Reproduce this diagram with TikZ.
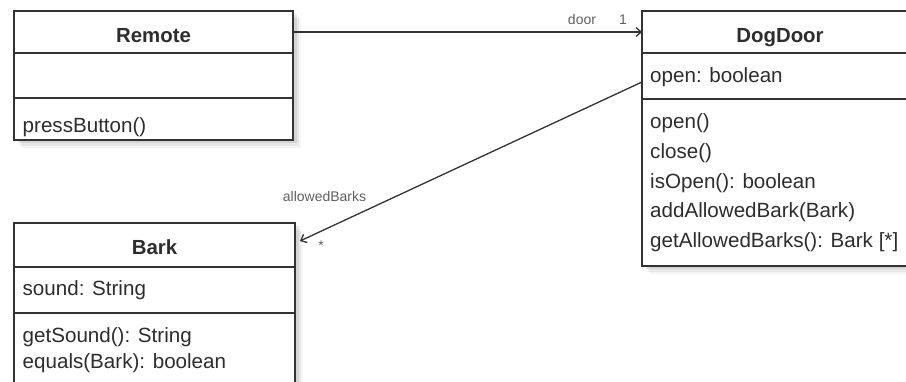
\documentclass[tikz,border=0pt]{standalone}
\usepackage{fontspec}
\setmainfont{Liberation Sans}
\usetikzlibrary{arrows.meta,positioning,shadows}
\definecolor{umlline}{RGB}{50,50,50}
\definecolor{umltext}{RGB}{45,45,45}
\definecolor{umllabel}{RGB}{95,95,95}

\tikzset{
  softshadow/.style={
    drop shadow={shadow xshift=8pt, shadow yshift=-8pt, opacity=.08},
    drop shadow={shadow xshift=6pt, shadow yshift=-6pt, opacity=.12},
    drop shadow={shadow xshift=3.5pt, shadow yshift=-3.5pt, opacity=.18}},
  classpart/.style={draw=umlline, line width=1.7pt, fill=white, inner sep=0pt, outer sep=0pt,
    minimum width=#1, softshadow},
  classname/.style={font=\bfseries\fontsize{20.4}{24}\selectfont, text=umltext, inner sep=0pt, anchor=base},
  member/.style={font=\fontsize{20.6}{24}\selectfont, text=umltext, inner sep=0pt, anchor=base west},
  rolelabel/.style={font=\fontsize{14}{16}\selectfont, text=umllabel, inner sep=0pt, anchor=base},
  assoc/.style={draw=umlline, line width=1.3pt, -{Straight Barb[length=5pt,width=9pt]}}
}

\begin{document}
\begin{tikzpicture}[x=1pt, y=-1pt]
    \useasboundingbox (0,0) rectangle (906,382);
    \clip (0,0) rectangle (906,382);

    % Remote class
    \node[classpart=279pt, minimum height=42pt, anchor=north west] (remote head) at (14,11) {};
    \node[classpart=279pt, minimum height=45pt, below=0pt of remote head] (remote attr) {};
    \node[classpart=279pt, minimum height=42pt, below=0pt of remote attr] (remote ops) {};
    \node[classname] (remote name) at (153.5,43) {Remote};
    \node[member] (remote op0) at (22.5,132.5) {pressButton()};

    % DogDoor class (runs past the right edge)
    \node[classpart=276pt, minimum height=42pt, anchor=north west] (dogdoor head) at (642,11) {};
    \node[classpart=276pt, minimum height=46pt, below=0pt of dogdoor head] (dogdoor attr) {};
    \node[classpart=276pt, minimum height=167pt, below=0pt of dogdoor attr] (dogdoor ops) {};
    \node[classname] (dogdoor name) at (780,42.5) {DogDoor};
    \node[member] (dogdoor at0) at (650,83) {open: boolean};
    \foreach \txt [count=\i from 0] in {open(), close(), isOpen(): boolean,
        addAllowedBark(Bark), getAllowedBarks(): Bark [*]}
      \node[member] (dogdoor op\i) at (650,{129+29.6*\i}) {\txt};

    % Bark class (runs past the bottom edge)
    \node[classpart=281pt, minimum height=44pt, anchor=north west] (bark head) at (14,223) {};
    \node[classpart=281pt, minimum height=46pt, below=0pt of bark head] (bark attr) {};
    \node[classpart=281pt, minimum height=90pt, below=0pt of bark attr] (bark ops) {};
    \node[classname] (bark name) at (154.5,255) {Bark};
    \node[member] (bark at0) at (22.5,296) {sound: String};
    \node[member] (bark op0) at (22.5,342.5) {getSound(): String};
    \node[member] (bark op1) at (22.5,369) {equals(Bark): boolean};

    % Associations
    \draw[assoc] (remote head) -- (dogdoor head);
    \node[rolelabel] (door role) at (582,25) {door};
    \node[rolelabel] (door mult) at (623,25) {1};

    \draw[assoc] ([yshift=-6pt]dogdoor attr.west) -- ([xshift=5pt,yshift=4pt]bark head.east);
    \node[rolelabel] (barks role) at (324.5,202) {allowedBarks};
    \node[rolelabel] (barks mult) at (321,251) {*};
\end{tikzpicture}
\end{document}
